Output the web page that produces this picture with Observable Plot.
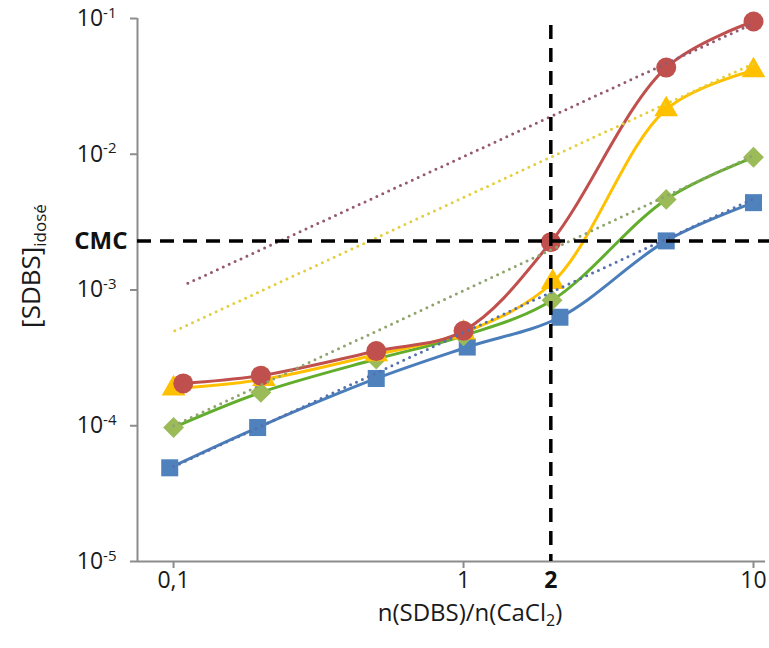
<!DOCTYPE html>
<html><head><meta charset="utf-8">
<script src="https://cdn.jsdelivr.net/npm/d3@7"></script>
<script src="https://cdn.jsdelivr.net/npm/@observablehq/plot@0.6"></script>
<style>
body{margin:0;background:#fff}
svg{font-family:"Open Sans",sans-serif}
</style>
</head><body><div id="chart"></div>
<script>
// ---- data ----
const ratioRed    = [0.108, 0.2, 0.5, 1, 2, 5, 10];
const sdbsRed     = [2.05e-4, 2.34e-4, 3.55e-4, 5.0e-4, 2.25e-3, 0.0435, 0.095];
const ratioYellow = [0.1, 0.205, 0.5, 1, 2.03, 5, 10];
const sdbsYellow  = [1.88e-4, 2.2e-4, 3.35e-4, 4.85e-4, 1.14e-3, 0.0214, 0.0414];
const ratioGreen  = [0.1, 0.2, 0.5, 1, 2.02, 5, 10];
const sdbsGreen   = [9.7e-5, 1.76e-4, 3.1e-4, 4.6e-4, 8.4e-4, 4.65e-3, 9.5e-3];
const ratioBlue   = [0.097, 0.195, 0.5, 1.03, 2.15, 5, 10];
const sdbsBlue    = [4.9e-5, 9.7e-5, 2.23e-4, 3.8e-4, 6.3e-4, 2.3e-3, 4.4e-3];

// dotted trend lines (end points)
const trendRatioRed    = [0.112, 10];
const trendRed         = [1.12e-3, 0.092];
const trendRatioYellow = [0.101, 10];
const trendYellow      = [5.0e-4, 0.0466];
const trendRatioGreen  = [0.1, 10];
const trendGreen       = [1.0e-4, 9.8e-3];
const trendRatioBlue   = [0.1, 10];
const trendBlue        = [5.0e-5, 4.7e-3];

const cmc = 2.3e-3;
const ratioCMC = 2;

const xTicks = [0.1, 1, 10];
const xTickLabels = ["0,1", "1", "10"];
const yTicks = [1e-5, 1e-4, 1e-3, 1e-2, 1e-1];
const xDomain = [0.0751, 11.0];
const yDomain = [1e-5, 1e-1];

const zip = (xs, ys) => xs.map((x, i) => ({x, y: ys[i]}));

const series = [
  {pts: zip(ratioBlue, sdbsBlue), line: "#4A7EBB", fill: "#4F81BD", symbol: "square", r: 9.6},
  {pts: zip(ratioGreen, sdbsGreen), line: "#62AE2C", fill: "#9BBB59", symbol: "diamond2", r: 9.4},
  {pts: zip(ratioYellow, sdbsYellow), line: "#FFC000", fill: "#FFC000", symbol: "triangle", r: 8.8},
  {pts: zip(ratioRed, sdbsRed), line: "#C0504D", fill: "#C0504D", symbol: "circle", r: 10}
];
const trends = [
  {pts: zip(trendRatioRed, trendRed), color: "#945870"},
  {pts: zip(trendRatioYellow, trendYellow), color: "#E3CF3C"},
  {pts: zip(trendRatioGreen, trendGreen), color: "#8FA46C"},
  {pts: zip(trendRatioBlue, trendBlue), color: "#5570AE"}
];

const marks = [
  Plot.ruleX([xDomain[0]], {stroke: "#8c8c8c", strokeWidth: 2}),
  Plot.ruleY([yDomain[0]], {stroke: "#8c8c8c", strokeWidth: 2}),
  Plot.axisY({ticks: yTicks, tickSize: 7, tickPadding: 14, stroke: "#8c8c8c", strokeWidth: 2,
              tickFormat: () => "10", label: null, fontSize: 23, fill: "#1a1a1a"}),
  Plot.axisX({ticks: xTicks, tickSize: 7, tickPadding: 3, stroke: "#8c8c8c", strokeWidth: 2,
              tickFormat: d => xTickLabels[xTicks.indexOf(d)], label: null, fontSize: 23, fill: "#1a1a1a"}),
  Plot.text([{y: cmc, t: "CMC"}], {y: "y", text: "t", frameAnchor: "left", dx: -10, textAnchor: "end",
              fontWeight: "bold", fontSize: 24, fill: "#111"}),
  Plot.text([{x: ratioCMC, t: "2"}], {x: "x", text: "t", frameAnchor: "bottom", dy: 10, lineAnchor: "top",
              fontWeight: "bold", fontSize: 23, fill: "#111"})
];
for (const s of series) {
  marks.push(Plot.line(s.pts, {x: "x", y: "y", stroke: s.line, strokeWidth: 3, curve: "catmull-rom"}));
  marks.push(Plot.dot(s.pts, {x: "x", y: "y", fill: s.fill, symbol: s.symbol, r: s.r}));
}
for (const t of trends) {
  marks.push(Plot.line(t.pts, {x: "x", y: "y", stroke: t.color, strokeWidth: 3,
                               strokeDasharray: "0,6.5", strokeLinecap: "round"}));
}
marks.push(Plot.ruleY([cmc], {stroke: "black", strokeWidth: 3.5, strokeDasharray: "14,9", insetRight: -4}));
marks.push(Plot.ruleX([ratioCMC], {stroke: "black", strokeWidth: 3.5, strokeDasharray: "14,9", insetTop: 7}));

const svg = Plot.plot({
  width: 769, height: 648,
  marginLeft: 137, marginRight: 4, marginTop: 18, marginBottom: 87,
  style: {fontFamily: "Open Sans", background: "white", color: "#1a1a1a", overflow: "visible"},
  x: {type: "log", domain: xDomain},
  y: {type: "log", domain: yDomain},
  marks
});
document.getElementById("chart").appendChild(svg);

// superscript exponents on y tick labels
const yLabels = svg.querySelectorAll('g[aria-label="y-axis tick label"] text');
yLabels.forEach((el, i) => {
  const exp = Math.round(Math.log10(yTicks[i]));
  el.textContent = "";
  const base = document.createElementNS("http://www.w3.org/2000/svg", "tspan");
  base.textContent = "10";
  el.appendChild(base);
  const sup = document.createElementNS("http://www.w3.org/2000/svg", "tspan");
  sup.textContent = String(exp);
  sup.setAttribute("dy", "-0.55em");
  sup.setAttribute("font-size", "15");
  el.appendChild(sup);
});

// axis titles with sub-scripts
const s = d3.select(svg);
const xl = s.append("text").attr("x", 470).attr("y", 621).attr("text-anchor", "middle")
  .attr("font-size", 24).attr("fill", "#1a1a1a");
xl.append("tspan").text("n(SDBS)/n(CaCl");
xl.append("tspan").text("2").attr("font-size", 16).attr("dy", "0.3em");
xl.append("tspan").text(")").attr("dy", "-0.2em");

const yl = s.append("text").attr("transform", "translate(40,266) rotate(-90)").attr("text-anchor", "middle")
  .attr("font-size", 26).attr("fill", "#1a1a1a");
yl.append("tspan").text("[SDBS]");
yl.append("tspan").text("idosé").attr("font-size", 17).attr("dy", "0.35em");
</script>
</body></html>
